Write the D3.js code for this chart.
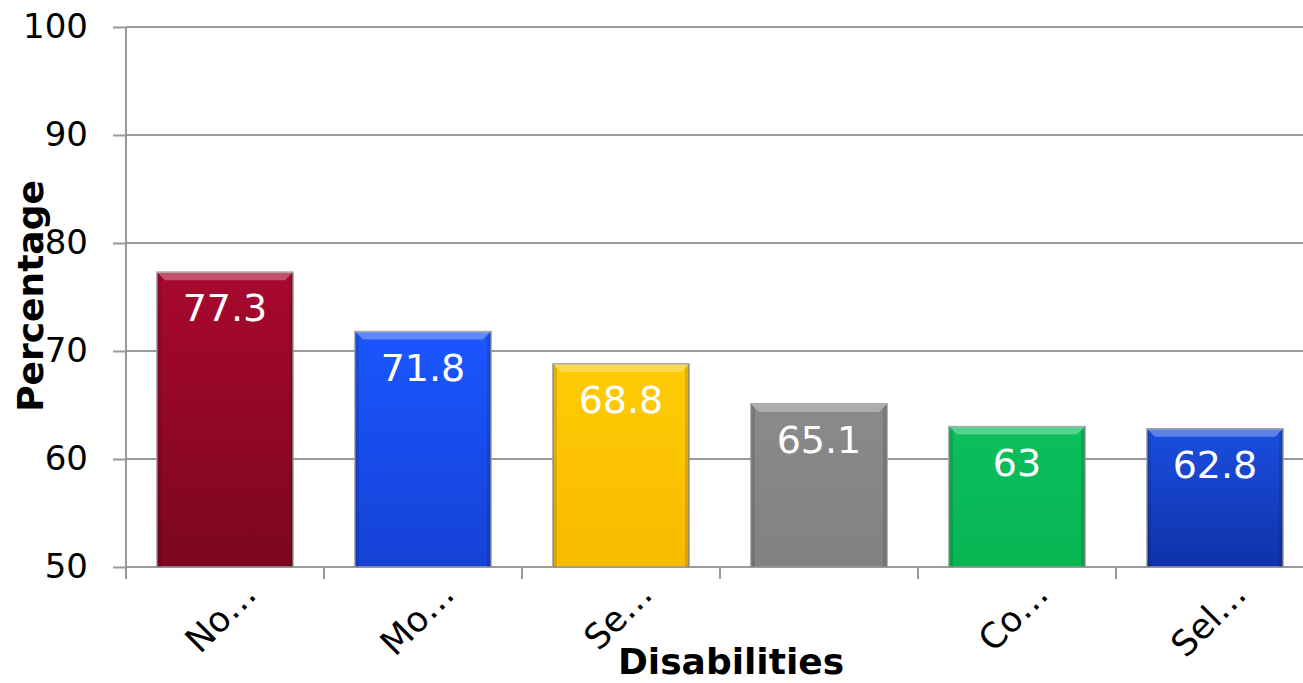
<!DOCTYPE html>
<html>
<head>
<meta charset="utf-8">
<script src="https://cdn.jsdelivr.net/npm/d3@7"></script>
<style>
  body { margin: 0; background: #fff; }
  svg { display: block; font-family: "DejaVu Sans", Verdana, sans-serif; }
</style>
</head>
<body>
<svg id="chart"></svg>
<script>
// chart data
var categories = ["No…", "Mo…", "Se…", "", "Co…", "Sel…"];
var values = [77.3, 71.8, 68.8, 65.1, 63, 62.8];
var yTicks = [50, 60, 70, 80, 90, 100];

// bar colours, [top, bottom]
var barColors = [
  ["#a8082e", "#7c0620"],
  ["#1a56ff", "#1642d6"],
  ["#ffcb05", "#f7bb00"],
  ["#8a8a8a", "#828282"],
  ["#0abf5c", "#08b553"],
  ["#1a4ee0", "#0f32a8"]
];

var svgWidth = 1303, svgHeight = 683;
var margin = { top: 27, right: 0, bottom: 116, left: 126 };
var bandW = 198;
var height = svgHeight - margin.top - margin.bottom;

var svg = d3.select("#chart")
  .attr("width", svgWidth)
  .attr("height", svgHeight);

var x = d3.scaleBand()
  .domain(d3.range(categories.length))
  .range([0, bandW * categories.length])
  .paddingInner(0.313)
  .paddingOuter(0.1565);

var y = d3.scaleLinear()
  .domain([50, 100])
  .range([height, 0]);

var defs = svg.append("defs");
barColors.forEach(function(c, i) {
  var g = defs.append("linearGradient")
    .attr("id", "grad" + i)
    .attr("x1", 0).attr("y1", 0).attr("x2", 0).attr("y2", 1);
  g.append("stop").attr("offset", "0%").attr("stop-color", c[0]);
  g.append("stop").attr("offset", "100%").attr("stop-color", c[1]);
});

var chart = svg.append("g")
  .attr("transform", `translate(${margin.left}, ${margin.top})`);

// grid lines
chart.append("g")
  .selectAll("line")
  .data(yTicks.slice(1))
  .enter()
  .append("line")
  .attr("x1", 0)
  .attr("x2", svgWidth - margin.left)
  .attr("y1", d => y(d))
  .attr("y2", d => y(d))
  .attr("stroke", "#999")
  .attr("stroke-width", 2);

// y axis
var yAxis = chart.append("g")
  .call(d3.axisLeft(y).tickValues(yTicks).tickSize(13).tickPadding(25).tickFormat(d3.format("d")));
yAxis.select(".domain").attr("stroke", "#999").attr("stroke-width", 2).attr("d", `M-0,${height}V0`);
yAxis.selectAll(".tick line").attr("stroke", "#999").attr("stroke-width", 2);
yAxis.selectAll(".tick text")
  .attr("font-size", 34)
  .attr("font-family", "DejaVu Sans, Verdana, sans-serif")
  .attr("fill", "#000");

// x axis
var xAxisG = chart.append("g")
  .attr("transform", `translate(0, ${height})`);
xAxisG.append("line")
  .attr("x1", 0).attr("x2", svgWidth - margin.left)
  .attr("y1", 0).attr("y2", 0)
  .attr("stroke", "#999").attr("stroke-width", 2);
xAxisG.selectAll(".xtick")
  .data(d3.range(categories.length + 1))
  .enter()
  .append("line")
  .attr("x1", d => d * bandW).attr("x2", d => d * bandW)
  .attr("y1", 0).attr("y2", 12)
  .attr("stroke", "#999").attr("stroke-width", 2);

xAxisG.selectAll(".xlabel")
  .data(categories)
  .enter()
  .append("text")
  .attr("transform", (d, i) => `translate(${x(i) + x.bandwidth() / 2 + 16}, 12) rotate(-45)`)
  .attr("text-anchor", "end")
  .attr("dy", "0.7em")
  .attr("font-size", 35)
  .attr("fill", "#000")
  .text(d => d);

// bars
var bars = chart.selectAll(".bar")
  .data(values)
  .enter()
  .append("g");

bars.append("rect")
  .attr("x", (d, i) => x(i))
  .attr("y", d => y(d))
  .attr("width", x.bandwidth())
  .attr("height", d => height - y(d))
  .attr("fill", (d, i) => `url(#grad${i})`)
  .attr("stroke", "#9a9a9a")
  .attr("stroke-width", 1.5);

// bevel highlight at top and darker sides
var bev = 8;
bars.append("path")
  .attr("d", (d, i) => {
    var x0 = x(i), x1 = x(i) + x.bandwidth(), y0 = y(d);
    return `M${x0},${y0}L${x1},${y0}L${x1 - bev},${y0 + bev}L${x0 + bev},${y0 + bev}Z`;
  })
  .attr("fill", "#fff")
  .attr("fill-opacity", 0.3);
bars.append("path")
  .attr("d", (d, i) => {
    var x0 = x(i), y0 = y(d);
    return `M${x0},${y0}L${x0 + 4},${y0 + 4}L${x0 + 4},${height}L${x0},${height}Z`;
  })
  .attr("fill", "#000")
  .attr("fill-opacity", 0.12);
bars.append("path")
  .attr("d", (d, i) => {
    var x1 = x(i) + x.bandwidth(), y0 = y(d);
    return `M${x1},${y0}L${x1 - 4},${y0 + 4}L${x1 - 4},${height}L${x1},${height}Z`;
  })
  .attr("fill", "#000")
  .attr("fill-opacity", 0.12);

// value labels
bars.append("text")
  .attr("x", (d, i) => x(i) + x.bandwidth() / 2)
  .attr("y", d => y(d) + 49)
  .attr("text-anchor", "middle")
  .attr("font-size", 38)
  .attr("fill", "#fff")
  .text(d => d);

// axis titles
svg.append("text")
  .attr("x", 731)
  .attr("y", 674)
  .attr("text-anchor", "middle")
  .attr("font-size", 36)
  .attr("font-weight", "bold")
  .text("Disabilities");

svg.append("text")
  .attr("transform", "translate(43, 296) rotate(-90)")
  .attr("text-anchor", "middle")
  .attr("font-size", 36)
  .attr("font-weight", "bold")
  .text("Percentage");
</script>
</body>
</html>
